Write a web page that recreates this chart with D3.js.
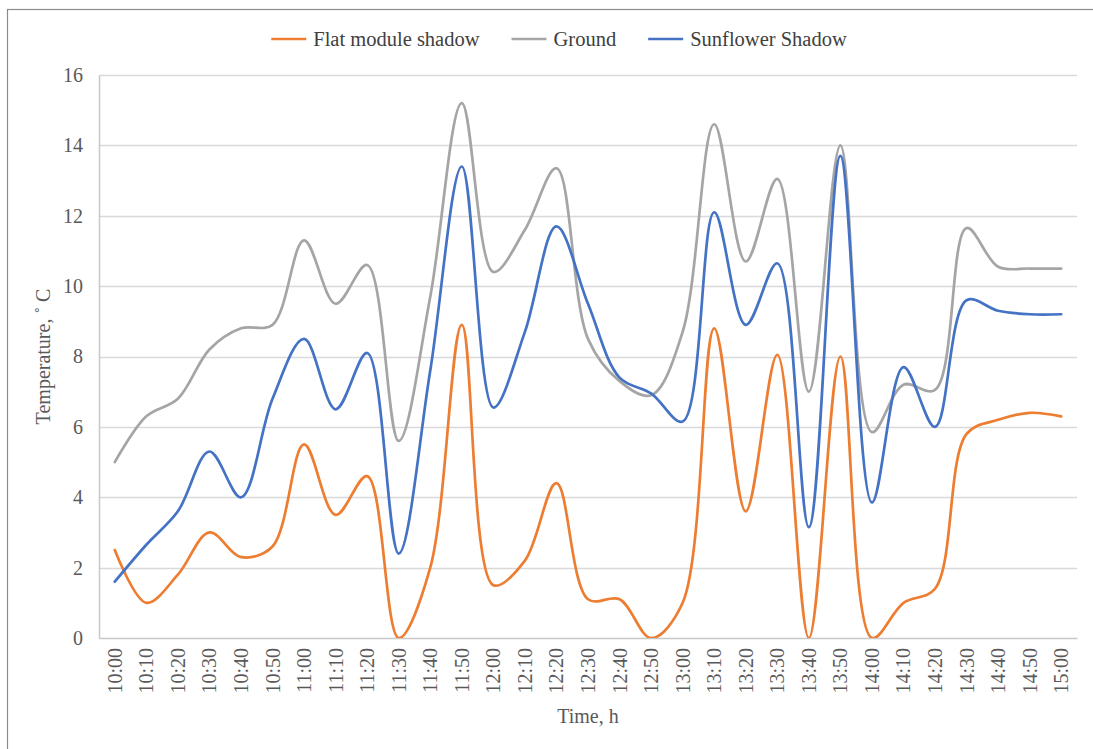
<!DOCTYPE html>
<html>
<head>
<meta charset="utf-8">
<script src="https://cdn.jsdelivr.net/npm/d3@7"></script>
<style>
  body { margin: 0; background: #fff; }
  svg { display: block; }
  text { font-family: "Liberation Serif", "Times New Roman", serif; }
</style>
</head>
<body>
<div id="chart"></div>
<script>
// categories (time of day)
var times = ["10:00", "10:10", "10:20", "10:30", "10:40", "10:50", "11:00", "11:10", "11:20", "11:30",
  "11:40", "11:50", "12:00", "12:10", "12:20", "12:30", "12:40", "12:50", "13:00", "13:10",
  "13:20", "13:30", "13:40", "13:50", "14:00", "14:10", "14:20", "14:30", "14:40", "14:50", "15:00"];

// temperatures, C
var flatModule = [2.5, 1.0, 1.8, 3.0, 2.3, 2.6, 5.5, 3.5, 4.6, 0, 2.0, 8.9, 1.5, 2.2, 4.4, 1.1,
  1.1, 0, 1.0, 8.8, 3.6, 8.05, 0, 8.0, 0, 1.0, 1.4, 5.8, 6.2, 6.4, 6.3];
var ground = [5.0, 6.3, 6.8, 8.2, 8.8, 8.9, 11.3, 9.5, 10.6, 5.6, 9.7, 15.2, 10.4, 11.6, 13.35, 8.5,
  7.3, 6.9, 8.7, 14.6, 10.7, 13.05, 7.0, 14.0, 5.85, 7.2, 7.05, 11.65, 10.55, 10.5, 10.5];
var sunflower = [1.6, 2.65, 3.6, 5.3, 4.0, 6.8, 8.5, 6.5, 8.1, 2.4, 7.6, 13.4, 6.55, 8.7, 11.7, 9.5,
  7.4, 6.95, 6.15, 12.1, 8.9, 10.65, 3.15, 13.7, 3.85, 7.7, 6.0, 9.6, 9.3, 9.2, 9.2];

var yTicks = [0, 2, 4, 6, 8, 10, 12, 14, 16];

var seriesNames = ["Flat module shadow", "Ground", "Sunflower Shadow"];
var seriesColors = ["#ED7D31", "#A5A5A5", "#4472C4"];
var seriesValues = [flatModule, ground, sunflower];

var serif = "'Liberation Serif', 'Times New Roman', serif";

var W = 1093, H = 749;
var margin = {top: 75, right: 16, bottom: 111, left: 99};
var width = W - margin.left - margin.right;
var height = H - margin.top - margin.bottom;

var svg = d3.select("#chart").append("svg")
  .attr("width", W)
  .attr("height", H);

// outer frame (only top/left edges fall inside the picture)
svg.append("rect")
  .attr("x", 7.5)
  .attr("y", 9.5)
  .attr("width", W)
  .attr("height", H)
  .attr("fill", "none")
  .attr("stroke", "#8c8c8c")
  .attr("stroke-width", 1.2);

var g = svg.append("g")
  .attr("transform", "translate(" + margin.left + "," + margin.top + ")");

var x = d3.scaleBand()
  .domain(times)
  .range([0, width]);

var y = d3.scaleLinear()
  .domain([0, 16])
  .range([height, 0]);

// gridlines
g.append("g")
  .selectAll("line")
  .data(yTicks.slice(1))
  .enter().append("line")
  .attr("x1", 0)
  .attr("x2", width)
  .attr("y1", function(d) { return Math.round(y(d)) + 0.5; })
  .attr("y2", function(d) { return Math.round(y(d)) + 0.5; })
  .attr("stroke", "#d9d9d9")
  .attr("stroke-width", 1.5);

// y axis
var yAxis = d3.axisLeft(y)
  .tickValues(yTicks)
  .tickSize(0)
  .tickPadding(16);

var yG = g.append("g").call(yAxis)
  .attr("font-family", serif)
  .attr("font-size", 20);
yG.select(".domain").attr("stroke", "#c8c8c8").attr("stroke-width", 1.5);
yG.selectAll("text")
  .attr("fill", "#595959")
  .style("font-family", serif)
  .style("font-size", "20px");

// x axis
var xAxis = d3.axisBottom(x).tickSize(0).tickPadding(10);

var xG = g.append("g")
  .attr("transform", "translate(0," + height + ")")
  .call(xAxis)
  .attr("font-family", serif)
  .attr("font-size", 20);
xG.select(".domain").attr("stroke", "#c8c8c8").attr("stroke-width", 1.5);
xG.selectAll("text")
  .attr("fill", "#595959")
  .style("font-family", serif)
  .style("font-size", "20px")
  .attr("text-anchor", "end")
  .attr("dy", "0.35em")
  .attr("transform", "rotate(-90)")
  .attr("x", -10)
  .attr("y", 0);

// lines, clipped to the plot area
g.append("clipPath")
  .attr("id", "plot-clip")
  .append("rect")
  .attr("x", -5)
  .attr("y", -5)
  .attr("width", width + 10)
  .attr("height", height + 5);

var line = d3.line()
  .x(function(d, i) { return x(times[i]) + x.bandwidth() / 2; })
  .y(function(d) { return y(d); })
  .curve(d3.curveCatmullRom.alpha(0.5));

g.append("g")
  .attr("clip-path", "url(#plot-clip)")
  .selectAll("path")
  .data(seriesValues)
  .enter().append("path")
  .attr("d", function(d) { return line(d); })
  .attr("fill", "none")
  .attr("stroke", function(d, i) { return seriesColors[i]; })
  .attr("stroke-width", 2.7)
  .attr("stroke-linejoin", "round")
  .attr("stroke-linecap", "round");

// axis titles
svg.append("text")
  .attr("x", margin.left + width / 2)
  .attr("y", 723)
  .attr("text-anchor", "middle")
  .attr("fill", "#595959")
  .style("font-family", serif)
  .style("font-size", "20px")
  .text("Time, h");

svg.append("text")
  .attr("text-anchor", "middle")
  .attr("fill", "#595959")
  .style("font-family", serif)
  .style("font-size", "20px")
  .attr("transform", "translate(50," + (margin.top + height / 2) + ") rotate(-90)")
  .text("Temperature, \u02DA C");

// legend
var legend = svg.append("g");
var lx = 0;
seriesNames.forEach(function(name, i) {
  var item = legend.append("g").attr("transform", "translate(" + lx + ",0)");
  item.append("line")
    .attr("x1", 0)
    .attr("x2", 35)
    .attr("y1", 0)
    .attr("y2", 0)
    .attr("stroke", seriesColors[i])
    .attr("stroke-width", 2.7);
  var t = item.append("text")
    .attr("x", 42)
    .attr("y", 0)
    .attr("dy", "0.35em")
    .attr("fill", "#404040")
    .style("font-family", serif)
    .style("font-size", "20.5px")
    .text(name);
  lx += 42 + t.node().getComputedTextLength() + 32;
});
lx -= 32;
legend.attr("transform", "translate(" + (559 - lx / 2) + ",39)");
</script>
</body>
</html>
